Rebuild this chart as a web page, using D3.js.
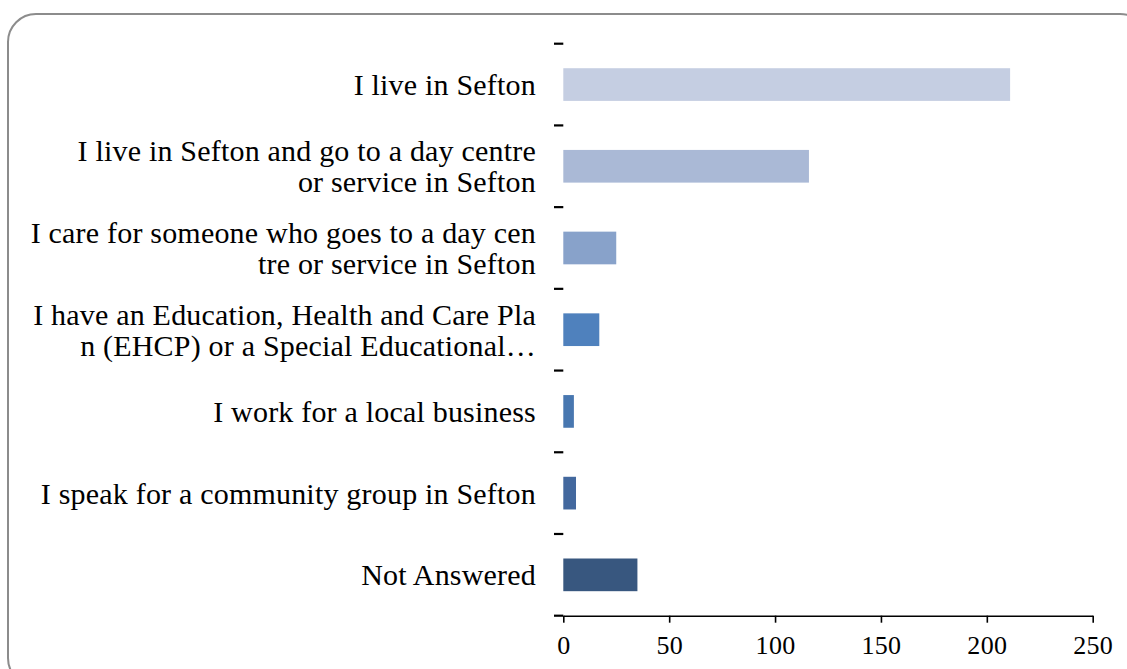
<!DOCTYPE html>
<html>
<head>
<meta charset="utf-8">
<script src="https://cdn.jsdelivr.net/npm/d3@7"></script>
<style>
  body { margin: 0; background: #fff; }
  svg { display: block; }
</style>
</head>
<body>
<div id="chart"></div>
<script>
// data
const categories = [
  "I live in Sefton",
  "I live in Sefton and go to a day centre or service in Sefton",
  "I care for someone who goes to a day centre or service in Sefton",
  "I have an Education, Health and Care Plan (EHCP) or a Special Educational Needs",
  "I work for a local business",
  "I speak for a community group in Sefton",
  "Not Answered"
];
const labelLines = [
  ["I live in Sefton"],
  ["I live in Sefton and go to a day centre", "or service in Sefton"],
  ["I care for someone who goes to a day cen", "tre or service in Sefton"],
  ["I have an Education, Health and Care Pla", "n (EHCP) or a Special Educational\u2026"],
  ["I work for a local business"],
  ["I speak for a community group in Sefton"],
  ["Not Answered"]
];
const values = [211, 116, 25, 17, 5, 6, 35];
const barColors = ["#C5CEE2", "#AAB9D6", "#88A2CA", "#4F81BD", "#4877B0", "#43689E", "#38577F"];
const xTicks = [0, 50, 100, 150, 200, 250];

const width = 1127, height = 669;

const svg = d3.select("#chart").append("svg")
  .attr("width", width)
  .attr("height", height);

// rounded frame, runs off the right and bottom edges
svg.append("rect")
  .attr("x", 8).attr("y", 14)
  .attr("width", 1140).attr("height", 672)
  .attr("rx", 28).attr("ry", 28)
  .attr("fill", "none")
  .attr("stroke", "#8c8c8c")
  .attr("stroke-width", 2);

const x = d3.scaleLinear().domain([0, 250]).range([563.3, 1092.7]);
const y = d3.scaleBand().domain(categories).range([43.7, 615.7])
  .paddingInner(0.6).paddingOuter(0.3);

svg.append("g")
  .selectAll("rect")
  .data(categories)
  .join("rect")
    .attr("x", x(0))
    .attr("y", d => y(d))
    .attr("width", (d, i) => x(values[i]) - x(0))
    .attr("height", y.bandwidth())
    .attr("fill", (d, i) => barColors[i]);

// x axis
const xAxis = svg.append("g")
  .attr("transform", `translate(0,${y.range()[1]})`)
  .call(d3.axisBottom(x).tickValues(xTicks).tickSize(7).tickSizeOuter(0).tickPadding(13));
xAxis.select(".domain").attr("stroke", "#000").attr("stroke-width", 1.6);
xAxis.selectAll(".tick line").attr("stroke", "#000").attr("stroke-width", 1.6);
xAxis.selectAll(".tick text")
  .attr("fill", "#000")
  .style("font-family", "'Liberation Serif', serif")
  .style("font-size", "26px")
  .style("letter-spacing", "0.3px");

// category boundary dashes on the left
const step = y.step();
const boundaries = d3.range(categories.length + 1).map(i => y.range()[0] + i * step);
svg.append("g")
  .selectAll("line")
  .data(boundaries)
  .join("line")
    .attr("x1", 554).attr("x2", x(0))
    .attr("y1", d => d).attr("y2", d => d)
    .attr("stroke", "#000")
    .attr("stroke-width", 2.2);

// category labels
const lineH = 31;
const labels = svg.append("g")
  .style("font-family", "'Liberation Serif', serif")
  .style("font-size", "30px")
  .style("letter-spacing", "0.2px")
  .attr("fill", "#000")
  .attr("text-anchor", "end");

labels.selectAll("text")
  .data(categories)
  .join("text")
    .attr("x", 536)
    .attr("y", d => y(d) + y.bandwidth() / 2)
    .each(function(d, i) {
      const lines = labelLines[i];
      const off = -(lines.length - 1) * lineH / 2;
      d3.select(this).selectAll("tspan")
        .data(lines)
        .join("tspan")
          .attr("x", 536)
          .attr("dy", (l, j) => j === 0 ? off : lineH)
          .attr("dominant-baseline", "central")
          .text(l => l);
    });
</script>
</body>
</html>
